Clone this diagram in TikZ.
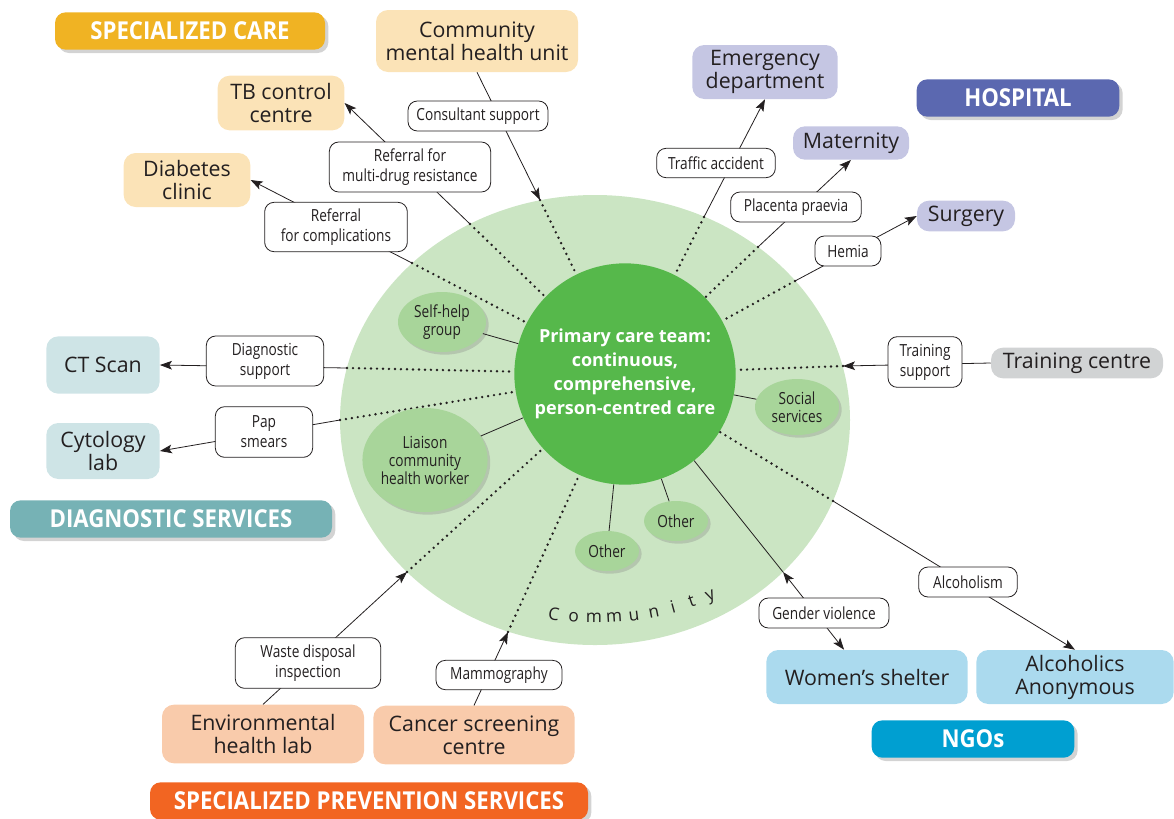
\documentclass[tikz,border=0pt]{standalone}
\usepackage{fontspec}
\setmainfont{Open Sans}
\newfontfamily\tagfont{Open Sans}[FakeStretch=0.82]
\newfontfamily\headfont{Open Sans}[FakeStretch=0.9]
\usetikzlibrary{arrows.meta,shapes.geometric,shadows}

\definecolor{ink}{HTML}{231F20}
\definecolor{carehead}{HTML}{F0B323}
\definecolor{careunit}{HTML}{FBE3B7}
\definecolor{hosphead}{HTML}{5B68B0}
\definecolor{hospunit}{HTML}{C5C6E3}
\definecolor{diaghead}{HTML}{76B2B5}
\definecolor{diagunit}{HTML}{CEE4E6}
\definecolor{prevhead}{HTML}{F26522}
\definecolor{prevunit}{HTML}{F9CBAB}
\definecolor{ngohead}{HTML}{009FD1}
\definecolor{ngounit}{HTML}{ABDAEE}
\definecolor{trainunit}{HTML}{D1D3D4}
\definecolor{commgreen}{HTML}{CBE5C3}
\definecolor{pcgreen}{HTML}{56B84B}
\definecolor{grpgreen}{HTML}{A8D59A}

\tikzset{
  head/.style={rounded corners=8pt, minimum height=28pt, inner sep=0pt, text=white,
    font=\headfont\bfseries\fontsize{18.5}{20}\selectfont,
    drop shadow={opacity=.35, shadow xshift=2.5pt, shadow yshift=-2.5pt}},
  unit/.style={rounded corners=9pt, inner sep=0pt, align=center, text=ink,
    font=\fontsize{16}{17.25}\selectfont},
  tag/.style={draw=ink, line width=.6pt, fill=white, rounded corners=7pt, inner sep=0pt,
    align=center, text=ink, font=\tagfont\fontsize{12.5}{15}\selectfont},
  grp/.style={ellipse, fill=grpgreen, inner sep=0pt, align=center, text=ink,
    font=\tagfont\fontsize{12.5}{13.5}\selectfont,
    drop shadow={opacity=.3, shadow xshift=2pt, shadow yshift=-2pt}},
  link/.style={ink, line width=.6pt},
  dots/.style={ink, line width=2pt, line cap=round, dash pattern=on 0pt off 4.5pt},
}

\begin{document}
\begin{tikzpicture}[x=.75pt, y=-.75pt, >={Stealth[length=9pt, width=6.5pt, inset=2pt]}]
  \useasboundingbox (0,0) rectangle (1174,818);

  % community ring and the team
  \node[ellipse, fill=commgreen, minimum width=382.5pt, minimum height=337.5pt] (comm) at (595,420) {};
  \node[circle, fill=pcgreen, minimum size=166pt, inner sep=0pt, text=white, align=center,
    font=\bfseries\fontsize{13.5}{18}\selectfont] (pc) at (625,374)
    {Primary care team:\\ continuous,\\ comprehensive,\\ person-centred care};
  \foreach \ch [count=\i] in {C,o,m,m,u,n,i,t,y} {
    \pgfmathsetmacro\t{99.6-4.675*(\i-1)}
    \node[anchor=base, inner sep=0pt, text=ink, font=\fontsize{13}{14}\selectfont,
      rotate={atan2(203*cos(\t),251*sin(\t))}] (c\i) at ({595+251*cos(\t)},{420+203*sin(\t)}) {\ch};
  }

  % headings
  \node[head, fill=carehead, minimum width=202.5pt] (care) at (190,31) {SPECIALIZED CARE};
  \node[head, fill=hosphead, minimum width=152pt] (hosp) at (1018,98) {HOSPITAL};
  \node[head, fill=diaghead, minimum width=241.5pt] (diag) at (171,519) {DIAGNOSTIC SERVICES};
  \node[head, fill=prevhead, minimum width=328.5pt] (prev) at (369,801) {SPECIALIZED PREVENTION SERVICES};
  \node[head, fill=ngohead, minimum width=152pt] (ngo) at (973,739) {NGOs};

  % services
  \node[unit, fill=careunit, minimum width=151.5pt, minimum height=46.5pt] (cmhu) at (477,41) {Community\\ mental health unit};
  \node[unit, fill=careunit, minimum width=95pt, minimum height=41pt] (tb) at (281,103) {TB control\\ centre};
  \node[unit, fill=careunit, minimum width=95pt, minimum height=40.5pt] (dia) at (187,180) {Diabetes\\ clinic};
  \node[unit, fill=hospunit, minimum width=109pt, minimum height=40.5pt] (emer) at (765,72) {Emergency\\ department};
  \node[unit, fill=hospunit, minimum width=87pt, minimum height=25pt] (mat) at (851,143) {Maternity};
  \node[unit, fill=hospunit, minimum width=73.5pt, minimum height=23pt] (surg) at (966,216) {Surgery};
  \node[unit, fill=trainunit, minimum width=129pt, minimum height=23pt] (train) at (1077,363) {Training centre};
  \node[unit, fill=diagunit, minimum width=85pt, minimum height=43pt] (ct) at (103,365) {CT Scan};
  \node[unit, fill=diagunit, minimum width=85pt, minimum height=42pt] (cyt) at (103,451) {Cytology\\ lab};
  \node[unit, fill=ngounit, minimum width=151pt, minimum height=40.5pt] (ws) at (867,677) {Women’s shelter};
  \node[unit, fill=ngounit, minimum width=148pt, minimum height=40.5pt] (aa) at (1075,677) {Alcoholics\\ Anonymous};
  \node[unit, fill=prevunit, minimum width=151.5pt, minimum height=44pt] (env) at (263,734) {Environmental\\ health lab};
  \node[unit, fill=prevunit, minimum width=151pt, minimum height=44pt] (can) at (474,735) {Cancer screening\\ centre};

  % where the links cross the ring
  \coordinate (g1) at (540,200);  \coordinate (g2) at (470,224);
  \coordinate (g3) at (412,263);  \coordinate (g4) at (704,217);
  \coordinate (g5) at (758,247);  \coordinate (g6) at (795,281);
  \coordinate (g7) at (843,366);  \coordinate (g8) at (833,501);
  \coordinate (g9) at (783,572);  \coordinate (g10) at (347,368);
  \coordinate (g11) at (340,420); \coordinate (g12) at (407,572);
  \coordinate (g13) at (508,632);

  \foreach \g in {g1,g2,g3,g4,g5,g6,g7,g8,g10,g11,g12,g13}
    \draw[dots] (\g) -- (pc);
  \draw[link] (pc) -- (g9);

  \draw[link,->] (cmhu.south) -- (g1);
  \draw[link,->] (g2) -- (tb.east);
  \draw[link,->] (g3) -- (dia.east);
  \draw[link,->] (g4) -- (emer.south);
  \draw[link,->] (g5) -- (mat.south);
  \draw[link,->] (g6) -- (surg.west);
  \draw[link,->] (train.west) -- (g7);
  \draw[link,->] (g8) -- (aa.north);
  \draw[link,<->] (g9) -- (ws.130);
  \draw[link,->] (g10) -- (ct.east);
  \draw[link,->] (g11) -- (cyt.east);
  \draw[link,->] (env.north) -- (g12);
  \draw[link,->] (can.north) -- (g13);

  % groups inside the community
  \node[grp, minimum width=66pt, minimum height=45pt] (shg) at (442,322) {Self-help\\ group};
  \node[grp, minimum width=85.5pt, minimum height=78pt] (chw) at (425,460) {Liaison\\ community\\ health worker};
  \node[grp, minimum width=63pt, minimum height=42pt] (soc) at (797,407) {Social\\ services};
  \node[grp, minimum width=48pt, minimum height=30pt] (oth1) at (676,521) {Other};
  \node[grp, minimum width=48pt, minimum height=30pt] (oth2) at (607,551) {Other};
  \foreach \n in {shg,chw,soc,oth1,oth2}
    \draw[link] (pc) -- (\n);

  % labels on the links
  \node[tag, minimum width=105pt, minimum height=22.5pt] (t1) at (478,116) {Consultant support};
  \node[tag, minimum width=121pt, minimum height=37.5pt] (t2) at (410,167) {Referral for\\ multi-drug resistance};
  \node[tag, minimum width=107pt, minimum height=37pt] (t3) at (336,227) {Referral\\ for complications};
  \node[tag, minimum width=89pt, minimum height=22pt] (t4) at (716,163) {Traffic accident};
  \node[tag, minimum width=98pt, minimum height=22.5pt] (t5) at (796,207) {Placenta praevia};
  \node[tag, minimum width=49.5pt, minimum height=22.5pt] (t6) at (848,251) {Hemia};
  \node[tag, minimum width=55.5pt, minimum height=38pt] (t7) at (925,362) {Training\\ support};
  \node[tag, minimum width=74pt, minimum height=22.5pt] (t8) at (968,582) {Alcoholism};
  \node[tag, minimum width=97.5pt, minimum height=22.5pt] (t9) at (824,613) {Gender violence};
  \node[tag, minimum width=88pt, minimum height=37.5pt] (t10) at (265,361) {Diagnostic\\ support};
  \node[tag, minimum width=73pt, minimum height=38pt] (t11) at (264,432) {Pap\\ smears};
  \node[tag, minimum width=109pt, minimum height=38pt] (t12) at (308,663) {Waste disposal\\ inspection};
  \node[tag, minimum width=94.5pt, minimum height=22pt] (t13) at (499,675) {Mammography};
\end{tikzpicture}
\end{document}
